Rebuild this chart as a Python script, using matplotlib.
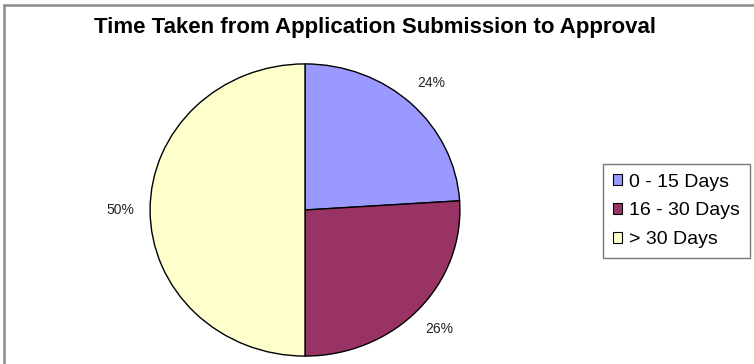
import matplotlib
matplotlib.use("Agg")
import matplotlib.pyplot as plt
import matplotlib.patches as mpatches

plt.rcParams["font.family"] = ["Liberation Sans", "DejaVu Sans"]

# ── Data ──────────────────────────────────────────────────────────────────────
categories = ["0 - 15 Days", "16 - 30 Days", "> 30 Days"]
shares = [24, 26, 50]
colors = ["#9999FF", "#993366", "#FFFFCC"]
title = "Time Taken from Application Submission to Approval"

W, H = 754, 364


def main():
    fig = plt.figure(figsize=(W / 100, H / 100), dpi=100)
    fig.patch.set_facecolor("white")

    # chart area border
    fig.patches.append(mpatches.Rectangle(
        (4 / W, -0.05), 1.2, (H - 5) / H + 0.05,
        transform=fig.transFigure, fill=False,
        edgecolor="#8c8c8c", linewidth=1.8))

    fig.text(375 / W, 1 - 27 / H, title, ha="center", va="center",
             fontsize=16, fontweight="bold", color="black")

    # pie is drawn slightly wider than tall
    ax = fig.add_axes([147 / W, 5 / H, 316 / W, 298 / H])
    wedges, _, pcts = ax.pie(
        shares, colors=colors, startangle=90, counterclock=False,
        autopct="%d%%", pctdistance=1.19,
        wedgeprops=dict(edgecolor="black", linewidth=1.0),
        textprops=dict(fontsize=10, color="#222222"))
    ax.set_xlim(-1.02, 1.02)
    ax.set_ylim(-1.02, 1.02)
    ax.set_aspect("auto")
    ax.axis("off")

    handles = [mpatches.Patch(facecolor=c, edgecolor="black", linewidth=0.8, label=l)
               for c, l in zip(colors, categories)]
    leg = fig.legend(handles=handles, loc="upper left",
                     bbox_to_anchor=(603 / W, 1 - 164 / H),
                     fontsize=14, frameon=True, fancybox=False,
                     edgecolor="#555555", handlelength=0.5, handleheight=0.5,
                     handletextpad=0.35, labelspacing=0.6, borderpad=0.5,
                     borderaxespad=0)
    leg.get_frame().set_linewidth(1.0)

    fig.savefig("out.png", dpi=100, facecolor="white")


if __name__ == "__main__":
    main()
